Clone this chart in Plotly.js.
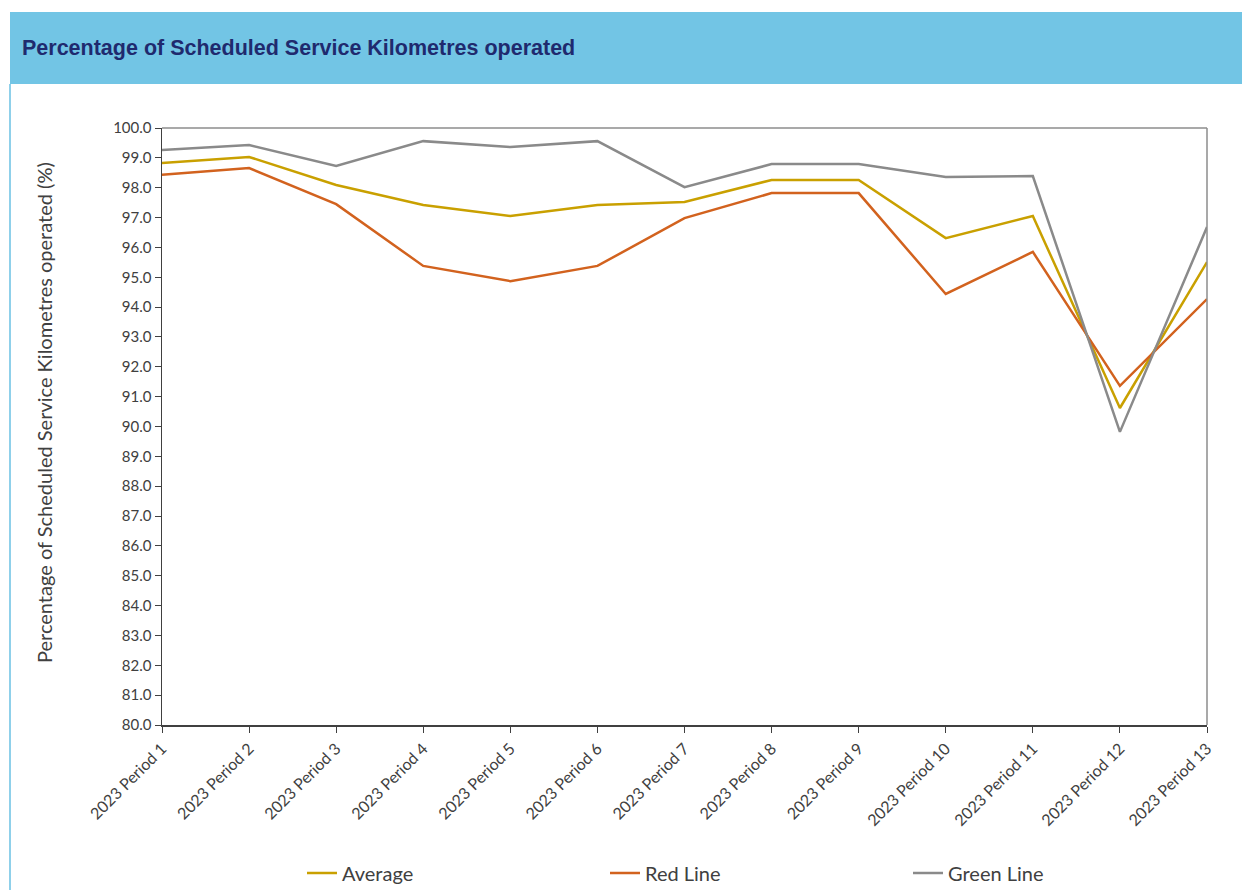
<!DOCTYPE html>
<html>
<head>
<meta charset="utf-8">
<script src="https://cdn.plot.ly/plotly-3.0.1.min.js"></script>
<style>
  html, body { margin: 0; padding: 0; background: #ffffff; }
  #wrap { position: relative; width: 1242px; height: 890px; overflow: hidden; }
  #band { position: absolute; left: 10px; top: 12px; width: 1232px; height: 72px; background: #72C5E5; }
  #edge { position: absolute; left: 9px; top: 84px; width: 2px; height: 806px; background: #8FD0EA; }
  #chart { position: absolute; left: 0; top: 0; width: 1242px; height: 890px; }
</style>
</head>
<body>
<div id="wrap">
  <div id="band"></div>
  <div id="edge"></div>
  <div id="chart"></div>
</div>
<script>
const categories = ["2023 Period 1","2023 Period 2","2023 Period 3","2023 Period 4","2023 Period 5","2023 Period 6","2023 Period 7","2023 Period 8","2023 Period 9","2023 Period 10","2023 Period 11","2023 Period 12","2023 Period 13"];
const averageValues = [98.83, 99.03, 98.09, 97.42, 97.05, 97.42, 97.52, 98.26, 98.26, 96.31, 97.05, 90.62, 95.51];
const redLineValues = [98.43, 98.66, 97.45, 95.38, 94.87, 95.38, 96.98, 97.82, 97.82, 94.44, 95.85, 91.36, 94.27];
const greenLineValues = [99.26, 99.43, 98.73, 99.56, 99.36, 99.56, 98.02, 98.79, 98.79, 98.36, 98.39, 89.82, 96.68];
const yTickValues = [80,81,82,83,84,85,86,87,88,89,90,91,92,93,94,95,96,97,98,99,100];
const yAxisTitle = "Percentage of Scheduled Service Kilometres operated (%)";

const fontFam = "Lato, 'Open Sans', sans-serif";

const traces = [
  {x: categories, y: averageValues, name: "Average", type: "scatter", mode: "lines",
   line: {color: "#C9A000", width: 2.5}},
  {x: categories, y: redLineValues, name: "Red Line", type: "scatter", mode: "lines",
   line: {color: "#D2621E", width: 2.5}},
  {x: categories, y: greenLineValues, name: "Green Line", type: "scatter", mode: "lines",
   line: {color: "#8A8A8A", width: 2.5}}
];

const layout = {
  width: 1242, height: 890,
  paper_bgcolor: "rgba(0,0,0,0)",
  plot_bgcolor: "#ffffff",
  margin: {l: 162, r: 35, t: 128, b: 165, pad: 0, autoexpand: false},
  title: {
    text: "<b>Percentage of Scheduled Service Kilometres operated</b>",
    font: {family: "Arial, 'Liberation Sans', sans-serif", size: 21.5, color: "#1F2A6E"},
    xref: "container", yref: "container",
    x: 22/1242, xanchor: "left",
    y: 1 - 47/890, yanchor: "middle"
  },
  showlegend: true,
  legend: {
    orientation: "h",
    xref: "container", yref: "container",
    x: 302/1242, xanchor: "left",
    y: 1 - 873/890, yanchor: "middle",
    entrywidth: 258, entrywidthmode: "pixels",
    font: {family: fontFam, size: 20, color: "#404040"},
    bgcolor: "rgba(0,0,0,0)"
  },
  xaxis: {
    type: "category",
    categoryorder: "array", categoryarray: categories,
    range: [0, categories.length - 1],
    showgrid: false, zeroline: false,
    showline: true, linecolor: "#404040", linewidth: 2,
    ticks: "outside", ticklen: 6, tickcolor: "#404040", tickwidth: 1,
    tickangle: -45,
    tickfont: {family: fontFam, size: 16, color: "#404040"},
    automargin: false,
    fixedrange: true
  },
  yaxis: {
    range: [80, 100],
    tickmode: "array", tickvals: yTickValues,
    tickformat: ".1f",
    showgrid: false, zeroline: false,
    showline: true, linecolor: "#404040", linewidth: 1.5,
    ticks: "outside", ticklen: 6, tickcolor: "#404040", tickwidth: 1,
    tickfont: {family: fontFam, size: 15, color: "#404040"},
    automargin: false,
    fixedrange: true
  },
  annotations: [
    {text: yAxisTitle, xref: "paper", yref: "paper",
     x: (44-162)/1045, xanchor: "center", y: (725-413)/597, yanchor: "middle",
     textangle: -90, showarrow: false,
     font: {family: fontFam, size: 20, color: "#404040"}}
  ],
  shapes: [
    {type: "line", xref: "paper", yref: "paper", x0: 0, x1: 1, y0: 1, y1: 1,
     line: {color: "#8C8C8C", width: 1.5}},
    {type: "line", xref: "paper", yref: "paper", x0: 1, x1: 1, y0: 0, y1: 1,
     line: {color: "#8C8C8C", width: 1.5}}
  ]
};

Plotly.newPlot("chart", traces, layout, {displayModeBar: false, staticPlot: true});
</script>
</body>
</html>
